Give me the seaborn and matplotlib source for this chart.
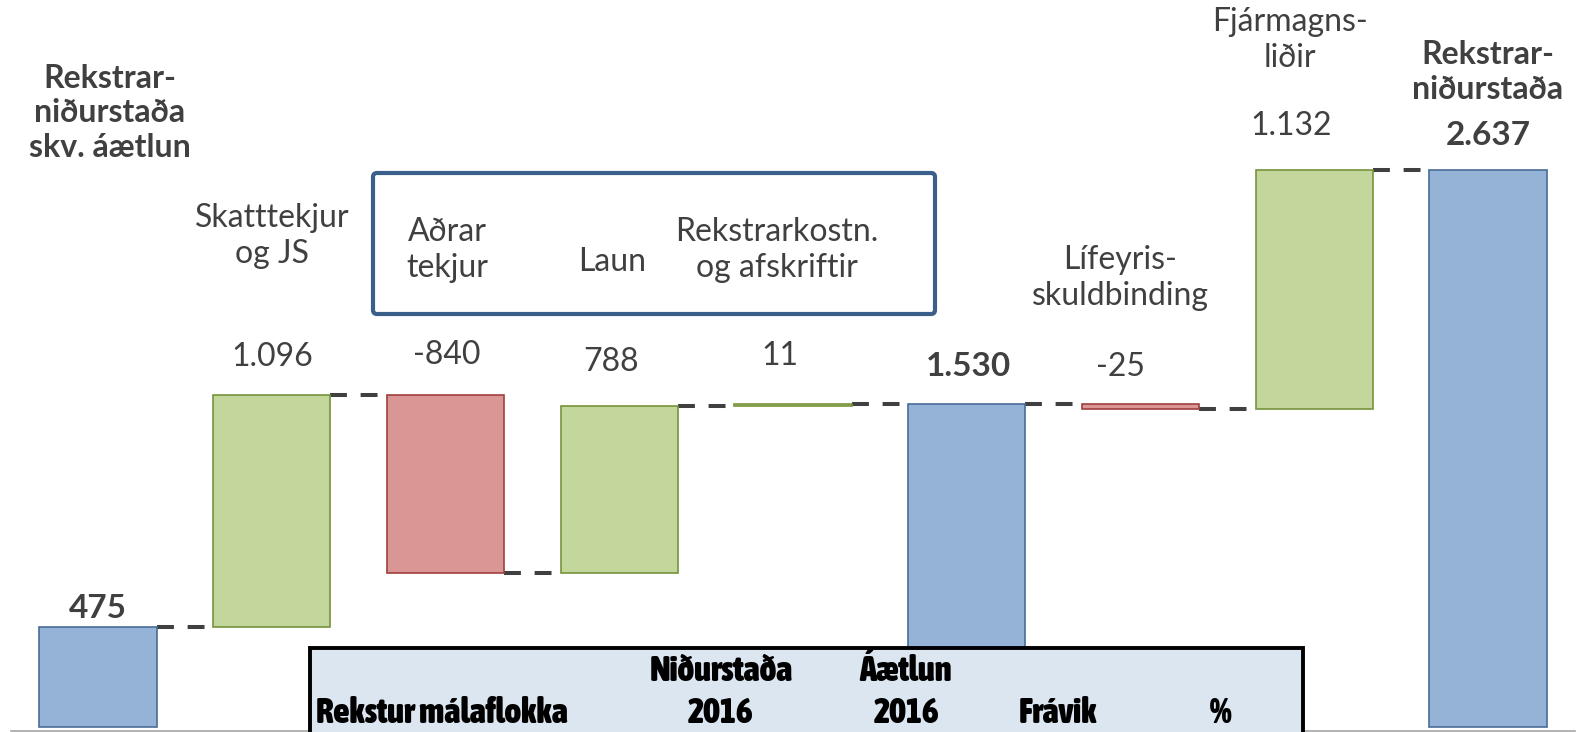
import matplotlib
matplotlib.use("Agg")
import matplotlib.pyplot as plt
import seaborn as sns
import pandas as pd
from matplotlib import font_manager as fm
from matplotlib.textpath import TextPath
from matplotlib.patches import Rectangle, FancyBboxPatch
from matplotlib.transforms import IdentityTransform

# ---------------- data ----------------
keys = ["start", "skatt", "adrar", "laun", "rekstr", "mid", "lifeyr", "fjarm", "end"]
cat_labels = ["Rekstrar-\nniðurstaða\nskv. áætlun", "Skatttekjur\nog JS", "Aðrar\ntekjur", "Laun",
              "Rekstrarkostn.\nog afskriftir", "", "Lífeyris-\nskuldbinding", "Fjármagns-\nliðir",
              "Rekstrar-\nniðurstaða"]
kinds = ["total", "delta", "delta", "delta", "delta", "total", "delta", "delta", "total"]
values = [475, 1096, -840, 788, 11, 1530, -25, 1132, 2637]

table_row1 = ["", "Niðurstaða", "Áætlun", "", ""]
table_row2 = ["Rekstur málaflokka", "2016", "2016", "Frávik", "%"]

# ---------------- styles / layout ----------------
W, H = 1579, 732
FILL = {"total": "#95B3D7", "up": "#C3D69B", "down": "#D99694"}
EDGE = {"total": "#4A6C96", "up": "#77933C", "down": "#A0403E"}
TXT = "#404040"
FONT = ["Lato", "DejaVu Sans"]
FS = 23

cat_pos = [(110, 113), (272, 236), (447, 250), (612, 262), (777, 250), (0, 0),
           (1120, 278), (1290, 40), (1488, 72)]
val_off = [(0, 18), (1, 38), (1, 40), (-8, 44), (-13, 48), (2, 37), (-20, 37), (-23, 44), (0, 34)]

TARGET_W = 250.0      # pixel width of "Rekstur málaflokka" in the table


def isbold(f):
    w = f.weight
    if isinstance(w, str):
        return w in ("bold", "heavy", "extra bold", "demibold", "semibold", "black")
    return w >= 600


def pick_table_font(sample):
    fl = [f for f in fm.fontManager.ttflist
          if "mono" not in (f.name + f.fname).lower() and f.style == "normal"]
    chosen = None
    for f in fl:
        if f.name == "Liberation Sans Narrow" and isbold(f):
            chosen = f
            break
    if chosen is None:
        for f in fl:
            if ("Condensed" in f.name or "Narrow" in f.name) and isbold(f):
                chosen = f
                break
    if chosen is None:
        return fm.FontProperties(family="Liberation Sans", weight="bold"), 18
    fp = fm.FontProperties(fname=chosen.fname)
    try:
        ws = TextPath((0, 0), sample, prop=fp, size=100).get_extents().width
        size = TARGET_W * 72.0 / ws
    except Exception:
        size = 22
    return fp, size


# ---------------- compute waterfall ----------------
bottoms, heights, tops, styles, running = [], [], [], [], []
cum = 0
for k, v in zip(kinds, values):
    if k == "total":
        b, h = 0, v
        cum = v
        styles.append("total")
    else:
        b = cum + min(v, 0)
        h = abs(v)
        cum = cum + v
        styles.append("up" if v >= 0 else "down")
    bottoms.append(b)
    heights.append(h)
    tops.append(b + h)
    running.append(cum)


def fmt(v):
    return f"{v:,}".replace(",", ".")


sns.set_style("white")
plt.rcParams["font.family"] = FONT

fig = plt.figure(figsize=(W / 100, H / 100), dpi=100)
ax = fig.add_axes([11 / W, 1.5 / H, 1564 / W, 730.5 / H])

df = pd.DataFrame({"cat": keys, "height": heights})
sns.barplot(data=df, x="cat", y="height", hue="cat", order=keys, hue_order=keys,
            palette=[FILL[s] for s in styles], legend=False, width=0.675, saturation=1,
            linewidth=1.2, ax=ax, zorder=3)
for p, b, s in zip(ax.patches, bottoms, styles):
    p.set_y(b)
    p.set_edgecolor(EDGE[s])

ax.set_xlim(-0.5, 8.5)
ax.set_ylim(-15, 3441)
ax.set_xticks([])
ax.set_yticks([])
ax.set_xlabel("")
ax.set_ylabel("")
for sp in ["top", "right", "left"]:
    ax.spines[sp].set_visible(False)
ax.spines["bottom"].set_color("#A6A6A6")
ax.spines["bottom"].set_linewidth(1.2)

# connectors
half = 0.675 / 2
for i in range(len(keys) - 1):
    ax.plot([i + half, i + 1 - half], [running[i], running[i]], color=TXT, lw=2.9,
            dashes=(4.2, 3.4), dash_capstyle="butt", zorder=2)

# value labels
for i, (t, v, k) in enumerate(zip(tops, values, kinds)):
    dx, dy = val_off[i]
    ax.annotate(fmt(v), xy=(i, t), xytext=(dx, dy), textcoords="offset pixels",
                ha="center", va="center", fontsize=FS + (1 if k == "total" else 0), color=TXT,
                fontweight="bold" if k == "total" else "normal")

# category labels
for i, (lab, k) in enumerate(zip(cat_labels, kinds)):
    if not lab:
        continue
    px, py = cat_pos[i]
    ax.annotate(lab, xy=(px, H - py), xycoords="figure pixels", ha="center", va="center",
                fontsize=FS, color=TXT, linespacing=1.22, multialignment="center",
                fontweight="bold" if k == "total" else "normal")

# box around group of labels
box = FancyBboxPatch((373, H - 314), 562, 141, boxstyle="round,pad=0,rounding_size=4",
                     transform=IdentityTransform(), facecolor="none", edgecolor="#3A5F8B",
                     linewidth=3.0, zorder=5)
fig.add_artist(box)

# table at bottom
tab = Rectangle((310, -20), 993, H - 648 + 20, transform=IdentityTransform(),
                facecolor="#DCE6F1", edgecolor="black", linewidth=2.8, zorder=5)
fig.add_artist(tab)
tprop, tsize = pick_table_font(table_row2[0])
tprop.set_size(tsize)
col_x = [316, 721, 906, 1058, 1221]
col_ha = ["left", "center", "center", "center", "center"]
for row, y in ((table_row1, 671), (table_row2, 713)):
    for s, x, ha in zip(row, col_x, col_ha):
        if s:
            fig.text(x, H - y, s, transform=IdentityTransform(), ha=ha, va="center",
                     fontproperties=tprop, color="black", zorder=6)

fig.savefig("out.png", dpi=100)
